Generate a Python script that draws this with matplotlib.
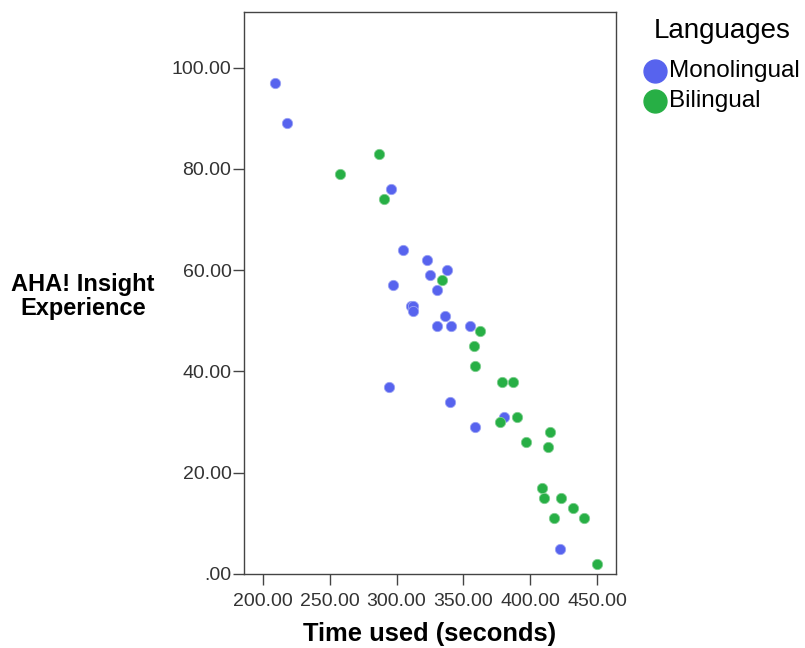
import matplotlib.pyplot as plt
from matplotlib.lines import Line2D
from matplotlib.ticker import FuncFormatter

plt.rcParams['font.family'] = ['Liberation Sans', 'DejaVu Sans']

# Monolingual participants
mono_time = [209, 218, 296, 305, 323, 338, 325, 297, 330, 310.5, 312, 312,
             336, 330, 341, 355, 294, 340, 359, 380, 422]
mono_aha = [97, 89, 76, 64, 62, 60, 59, 57, 56, 53, 53, 52,
            51, 49, 49, 49, 37, 34, 29, 31, 5]

# Bilingual participants
bi_time = [287, 258, 291, 334, 362, 358, 359, 379, 387, 377, 390, 415,
           397, 413, 409, 410, 423, 432, 418, 440, 450]
bi_aha = [83, 79, 74, 58, 48, 45, 41, 38, 38, 30, 31, 28,
          26, 25, 17, 15, 15, 13, 11, 11, 2]

groups = ["Monolingual", "Bilingual"]
x_ticks = [200, 250, 300, 350, 400, 450]
y_ticks = [0, 20, 40, 60, 80, 100]

blue = "#5763ee"
green = "#27af45"

W, H = 805, 648
fig = plt.figure(figsize=(W / 100, H / 100), dpi=100)
ax = fig.add_axes([0.3031, 0.1142, 0.4621, 0.8673])

ax.scatter(mono_time, mono_aha, s=55, color=blue, edgecolors="#9aa2f5", linewidths=0.6, zorder=3)
ax.scatter(bi_time, bi_aha, s=55, color=green, edgecolors="#7fcf8f", linewidths=0.6, zorder=3)

ax.set_xlim(186, 464)
ax.set_ylim(0, 111)
ax.set_xticks(x_ticks)
ax.set_yticks(y_ticks)

def fmt(v, pos):
    s = f"{v:.2f}"
    return s[1:] if s.startswith("0") else s

ax.xaxis.set_major_formatter(FuncFormatter(fmt))
ax.yaxis.set_major_formatter(FuncFormatter(fmt))
ax.tick_params(axis="both", direction="out", length=8, width=1, color="#444444",
               labelsize=14, labelcolor="#333333")
ax.tick_params(axis="x", pad=6)
ax.tick_params(axis="y", pad=1)

for sp in ax.spines.values():
    sp.set_color("#444444")
    sp.set_linewidth(1)

ax.set_xlabel("Time used (seconds)", fontsize=18.4, fontweight="bold", labelpad=8)
fig.text(0.103, 0.543, "AHA! Insight\nExperience", fontsize=17, fontweight="bold",
         ha="center", va="center", linespacing=1.05)

# legend drawn by hand so it sits like the SPSS one
fig.text(722 / W, 1 - 31 / H, "Languages", fontsize=20, ha="center", va="center")
for i, (name, col) in enumerate(zip(groups, [blue, green])):
    yy = 1 - (71 + 30 * i) / H
    fig.add_artist(Line2D([655 / W], [yy], marker="o", markersize=16.5, color=col,
                          linestyle="", transform=fig.transFigure))
    fig.text(669 / W, yy, name, fontsize=17.5, ha="left", va="center")

fig.savefig("out.png", dpi=100)
